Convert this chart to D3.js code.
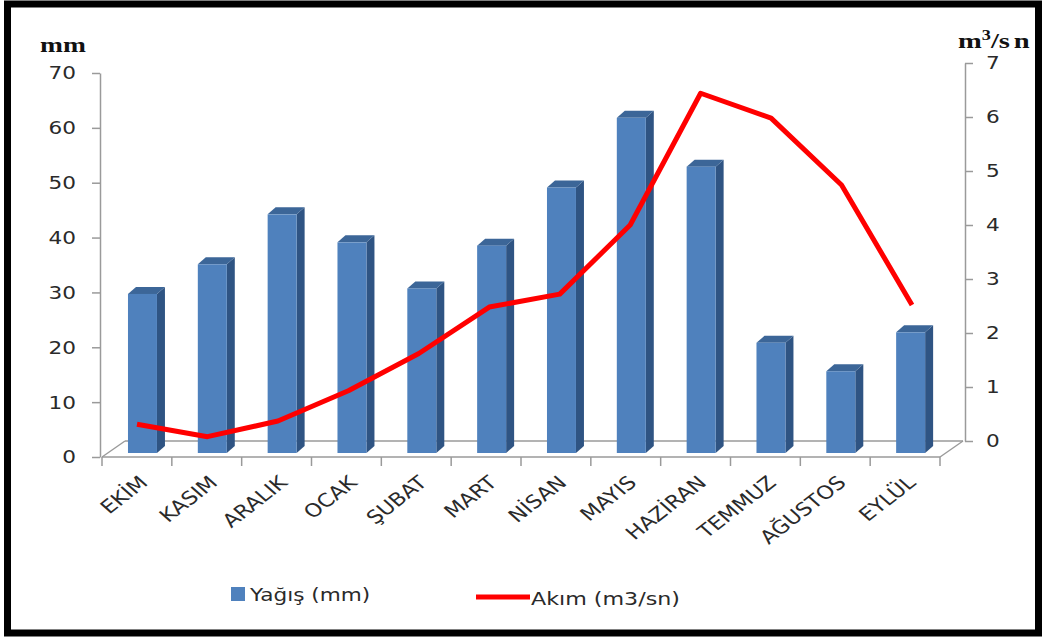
<!DOCTYPE html>
<html><head><meta charset="utf-8">
<script src="https://cdn.jsdelivr.net/npm/d3@7"></script>
<style>body{margin:0;background:#fff}</style>
</head><body><svg id="c" width="1043" height="637"></svg>
<script>
const months = ["EKİM","KASIM","ARALIK","OCAK","ŞUBAT","MART","NİSAN","MAYIS","HAZİRAN","TEMMUZ","AĞUSTOS","EYLÜL"];
const rainfall = [29,34.4,43.5,38.4,30,37.8,48.4,61.1,52.2,20.1,14.9,22];
const flow = [0.31,0.08,0.37,0.93,1.62,2.48,2.72,4.0,6.44,5.98,4.74,2.52];
const leftTicks = [0,10,20,30,40,50,60,70];
const rightTicks = [0,1,2,3,4,5,6,7];
const legendLabels = ["Yağış (mm)","Akım (m3/sn)"];

(function(){
const svg = d3.select("#c");
const SX = 1.2; // horizontal stretch of text
const font = "DejaVu Sans, Verdana, sans-serif";

const x = d3.scaleBand(months, [102, 940]).padding(0);
const xLine = d3.scalePoint(months, [137, 912]);
const yL = d3.scaleLinear([0,70],[457,73]);
const yR = d3.scaleLinear([0,7],[441,63]);
const bw = x.bandwidth();
const DX = 8, DY = -7, BAR_SHIFT = 4;

// frame
svg.append("rect").attr("x",7.5).attr("y",4).attr("width",1031).attr("height",629)
  .attr("fill","none").attr("stroke","#000").attr("stroke-width",7);

const axisColor = "#9a9a9a";
// floor
const floor = svg.append("g").attr("stroke",axisColor).attr("stroke-width",1.5).attr("fill","none");
floor.append("line").attr("x1",102+23).attr("y1",441).attr("x2",940+23).attr("y2",441);
floor.append("line").attr("x1",102).attr("y1",457).attr("x2",940).attr("y2",457);
floor.append("line").attr("x1",102).attr("y1",457).attr("x2",125).attr("y2",441);
floor.append("line").attr("x1",940).attr("y1",457).attr("x2",963).attr("y2",441);

// left axis
const gl = svg.append("g").attr("transform","translate(100,0)")
  .call(d3.axisLeft(yL).tickValues(leftTicks).tickSize(8).tickSizeOuter(0).tickFormat(d=>""));
gl.selectAll("path,line").attr("stroke",axisColor).attr("stroke-width",1.5);
svg.append("g").selectAll("text").data(leftTicks).join("text")
  .attr("transform",d=>`translate(76,${yL(d)}) scale(${SX},1)`)
  .attr("text-anchor","end").attr("dy","0.36em")
  .attr("font-family",font).attr("font-size",18).attr("fill","#2a2a2a").text(d=>d);

// right axis
const gr = svg.append("g").attr("transform","translate(965,0)")
  .call(d3.axisRight(yR).tickValues(rightTicks).tickSize(8).tickSizeOuter(0).tickFormat(d=>""));
gr.selectAll("path,line").attr("stroke",axisColor).attr("stroke-width",1.5);
svg.append("g").selectAll("text").data(rightTicks).join("text")
  .attr("transform",d=>`translate(986,${yR(d)}) scale(${SX},1)`)
  .attr("dy","0.36em")
  .attr("font-family",font).attr("font-size",18).attr("fill","#2a2a2a").text(d=>d);

// bottom category ticks
const bounds = months.map(m=>x(m)).concat([x(months[months.length-1])+bw]);
svg.append("g").selectAll("line").data(bounds).join("line")
  .attr("x1",d=>d).attr("x2",d=>d).attr("y1",457).attr("y2",466)
  .attr("stroke",axisColor).attr("stroke-width",1.5);

// category labels
svg.append("g").selectAll("text").data(months).join("text")
  .attr("transform",m=>`translate(${x(m)+bw/2+12},${484}) scale(${SX},1) rotate(-43)`)
  .attr("text-anchor","end")
  .attr("font-family",font).attr("font-size",18.5).attr("fill","#2a2a2a").text(m=>m);

// bars (3D)
const bars = svg.append("g").selectAll("g").data(months.map((m,i)=>({m,v:rainfall[i]}))).join("g");
const fx = d=>x(d.m)+bw*0.372, fw = bw*0.415;
const base = yL(0)-BAR_SHIFT;
const ty = d=>yL(d.v)-BAR_SHIFT;
bars.append("path").attr("fill","#2f5483")
  .attr("d",d=>`M${fx(d)+fw},${base}L${fx(d)+fw+DX},${base+DY}L${fx(d)+fw+DX},${ty(d)+DY}L${fx(d)+fw},${ty(d)}Z`);
bars.append("path").attr("fill","#3c6698")
  .attr("d",d=>`M${fx(d)},${ty(d)}L${fx(d)+DX},${ty(d)+DY}L${fx(d)+fw+DX},${ty(d)+DY}L${fx(d)+fw},${ty(d)}Z`);
bars.append("rect").attr("fill","#4f81bd")
  .attr("x",fx).attr("y",ty).attr("width",fw).attr("height",d=>base-ty(d));

// line
const line = d3.line().x((d,i)=>xLine(months[i])).y(d=>yR(d));
svg.append("path").datum(flow).attr("d",line)
  .attr("fill","none").attr("stroke","#ff0000").attr("stroke-width",5).attr("stroke-linejoin","round");

// unit labels
svg.append("text").attr("transform",`translate(40,52) scale(1.25,1)`)
  .attr("font-family","Liberation Serif, Times New Roman, serif").attr("font-weight","bold")
  .attr("font-size",22).attr("fill","#111").text("mm");
const ru = svg.append("text").attr("transform",`translate(958,48) scale(1.3,1)`)
  .attr("font-family","Liberation Serif, Times New Roman, serif").attr("font-weight","bold")
  .attr("font-size",22).attr("fill","#111");
ru.append("tspan").text("m");
ru.append("tspan").attr("font-size",14).attr("dy",-8).text("3");
ru.append("tspan").attr("dy",8).text("/s");
ru.append("tspan").attr("dx",3).text("n");

// legend
svg.append("rect").attr("x",231).attr("y",587).attr("width",14).attr("height",14).attr("fill","#4f81bd");
svg.append("text").attr("transform",`translate(250,595) scale(${SX},1)`).attr("dy","0.36em")
  .attr("font-family",font).attr("font-size",18).attr("fill","#2a2a2a").text(legendLabels[0]);
svg.append("line").attr("x1",476).attr("x2",530).attr("y1",597).attr("y2",597)
  .attr("stroke","#ff0000").attr("stroke-width",5);
svg.append("text").attr("transform",`translate(531,598) scale(${SX},1)`).attr("dy","0.36em")
  .attr("font-family",font).attr("font-size",18.5).attr("fill","#2a2a2a").text(legendLabels[1]);
})();
</script></body></html>
